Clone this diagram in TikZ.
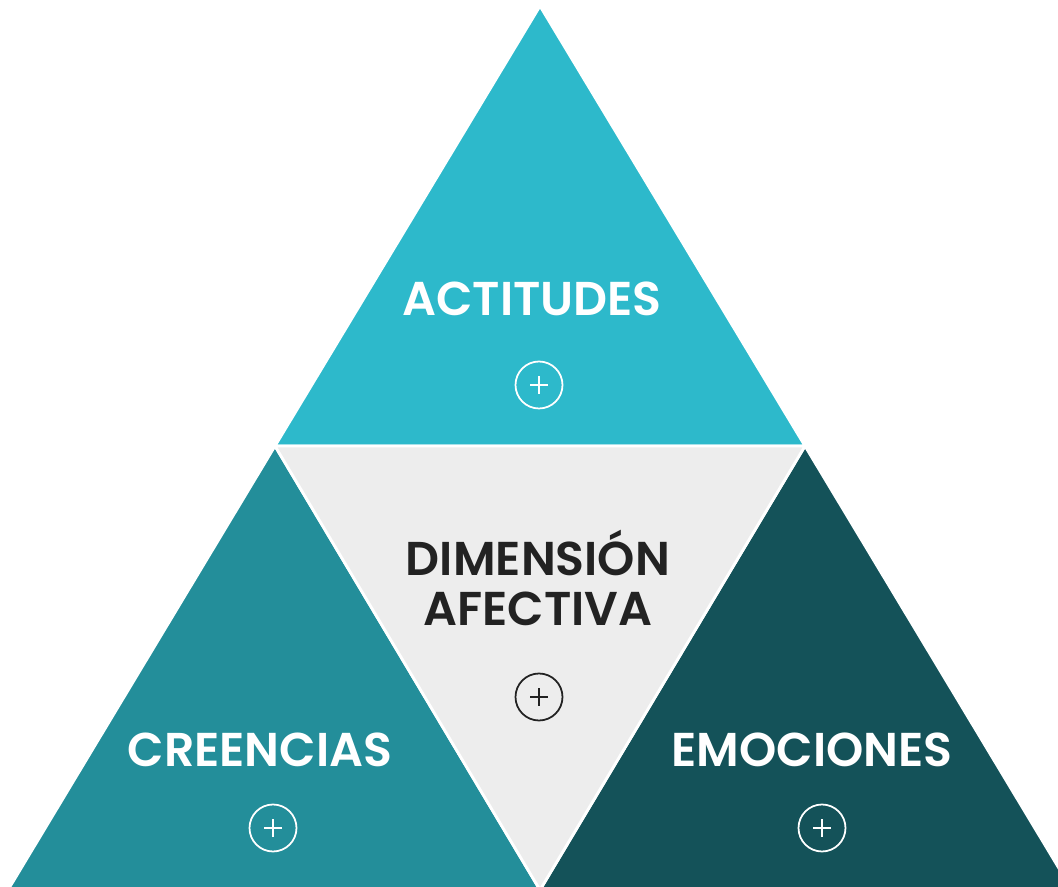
\documentclass[tikz,border=0pt]{standalone}
\usepackage{fontspec}
\setmainfont{Poppins}[BoldFont={Poppins SemiBold}]
\definecolor{cielo}{RGB}{45,185,203}
\definecolor{petroleo}{RGB}{35,142,154}
\definecolor{abismo}{RGB}{20,82,89}
\definecolor{niebla}{RGB}{237,237,237}
\definecolor{tinta}{RGB}{34,34,34}
\tikzstyle{pieza}=[draw=white,line width=1.6pt,line join=round]
\tikzstyle{titulo}=[font=\fontsize{27}{28.5}\selectfont\bfseries,align=center]
\tikzstyle{mas}=[circle,draw,line width=1pt,minimum size=0.94cm,inner sep=0pt]

\begin{document}
\begin{tikzpicture}[x=0.02cm,y=0.02cm]
\useasboundingbox (0,0) rectangle (1058,886);
\clip (0,0) rectangle (1058,886);
\coordinate (A) at (540,880);
\coordinate (L) at (275,440);
\coordinate (R) at (805,440);
\coordinate (BL) at (8,-4);
\coordinate (BC) at (540,-4);
\coordinate (BR) at (1072,-4);
\fill [white] (0,0) rectangle (1058,886);
\filldraw [pieza,fill=cielo] (A) -- (L) -- (R) -- cycle;
\filldraw [pieza,fill=petroleo] (L) -- (BL) -- (BC) -- cycle;
\filldraw [pieza,fill=abismo] (R) -- (BC) -- (BR) -- cycle;
\filldraw [pieza,fill=niebla] (L) -- (R) -- (BC) -- cycle;
\node [titulo,text=white] (actitudes) at (532,587) {ACTITUDES};
\node [titulo,text=tinta] (dimension) at (538,308) {DIMENSIÓN\\AFECTIVA};
\node [titulo,text=white] (creencias) at (260,136) {CREENCIAS};
\node [titulo,text=white] (emociones) at (812,136) {EMOCIONES};
\node [mas,draw=white] (masA) at (539,501) {};
\node [mas,draw=tinta] (masD) at (539,189) {};
\node [mas,draw=white] (masC) at (273,58) {};
\node [mas,draw=white] (masE) at (822,58) {};
\foreach \n/\c in {masA/white,masD/tinta,masC/white,masE/white}
{\draw [\c,line width=1pt] (\n.center) ++(-9,0) -- ++(18,0);
 \draw [\c,line width=1pt] (\n.center) ++(0,-9) -- ++(0,18);}
\end{tikzpicture}
\end{document}
